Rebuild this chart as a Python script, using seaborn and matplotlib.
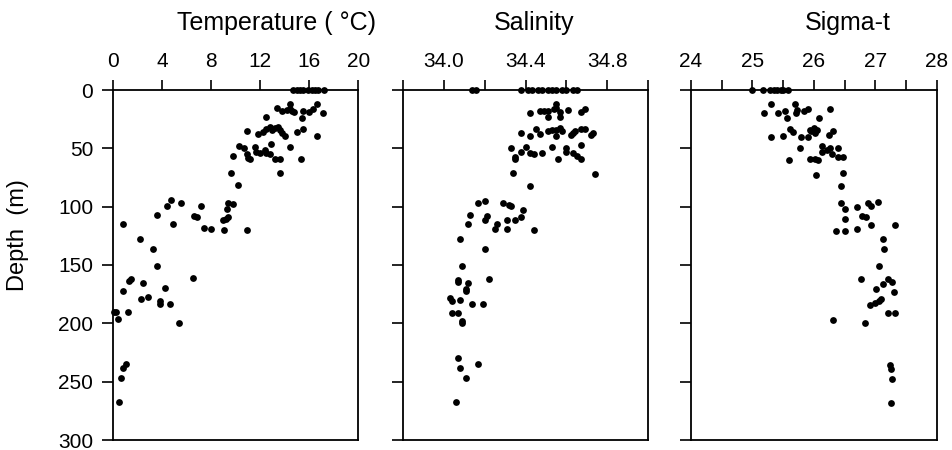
import matplotlib
matplotlib.use("Agg")
import matplotlib.pyplot as plt
import seaborn as sns
import pandas as pd

# ---------------- data ----------------
temp_values = [14.7, 15.0, 15.25, 15.5, 15.9, 16.2, 16.5, 16.7, 17.2,
               14.4, 13.4, 13.8, 14.2, 14.4, 14.6, 14.8, 15.5, 16.0, 16.3, 16.6, 17.1,
               12.5, 15.4, 10.9, 11.8, 12.2, 12.5, 12.8, 13.0, 13.2, 13.5, 13.6, 13.8,
               14.0, 15.0, 15.5, 16.6, 10.3, 10.7, 9.8, 10.9, 11.0, 11.2, 11.6, 11.7,
               12.0, 12.4, 12.5, 12.8, 12.9, 13.2, 13.6, 14.4, 15.3, 13.6, 9.6, 10.2,
               4.75, 4.45, 5.6, 3.6, 4.9, 0.87, 6.6, 6.9, 7.2, 7.4, 8.0, 9.1, 8.95,
               9.2, 9.4, 9.3, 9.4, 9.8, 10.9, 2.2, 3.3, 3.6,
               6.57, 1.36, 1.49, 2.44, 0.81, 4.26, 2.28, 2.9, 3.85, 3.85, 4.67,
               0.11, 0.25, 1.28, 0.41, 5.43, 1.09, 0.81, 0.68, 0.54]
temp_depth = [0, 0, 0, 0, 0, 0, 0, 0, 0,
              12.2, 15.6, 18.4, 17, 16.4, 18.4, 19.2, 17.8, 19.2, 16.4, 12.2, 19.8,
              23.5, 24, 34.8, 37.6, 36, 33.4, 32, 34, 32.5, 31.7, 34, 36.8,
              39, 36, 33.1, 39.6, 48.1, 49.8, 56.6, 55.2, 58, 58.9, 48.7, 53.2,
              53.8, 51, 53.8, 54.6, 46.7, 59.4, 58.9, 48.7, 59.4, 71.3, 70.8, 81.5,
              94.3, 99, 96.8, 107, 115, 115, 107.6, 109, 99.6, 118.3, 118.9, 120.3, 111,
              110.4, 109, 101.9, 96.8, 97.7, 120.3, 127.4, 136.1, 150.6,
              161.4, 163.7, 162, 165.7, 172, 170, 179.4, 177.7, 180.9, 183.4, 183.4,
              190.6, 190.6, 190.6, 196.6, 199.4, 234.9, 238.6, 247.1, 267.1]

sal_values = [34.14, 34.16, 34.38, 34.41, 34.43, 34.46, 34.48, 34.51, 34.53, 34.55,
              34.58, 34.60, 34.63, 34.65,
              34.55, 34.42, 34.47, 34.49, 34.51, 34.54, 34.55, 34.57, 34.51, 34.57,
              34.61, 34.67, 34.69, 34.38, 34.42, 34.45, 34.47, 34.51, 34.53, 34.55,
              34.57, 34.58, 34.55, 34.62, 34.63, 34.64, 34.67, 34.69, 34.72, 34.73,
              34.33, 34.35, 34.35, 34.38, 34.40, 34.42, 34.44, 34.48, 34.53, 34.56,
              34.60, 34.60, 34.63, 34.65, 34.67, 34.67, 34.74, 34.34, 34.42,
              34.17, 34.20, 34.29, 34.32, 34.33, 34.39, 34.13, 34.21, 34.20, 34.12,
              34.26, 34.25, 34.31, 34.31, 34.35, 34.38, 34.44, 34.08, 34.20, 34.09,
              34.22, 34.07, 34.07, 34.12, 34.11, 34.11, 34.03, 34.04, 34.08, 34.14,
              34.19, 34.04, 34.07, 34.09, 34.09, 34.07, 34.17, 34.08, 34.11, 34.06]
sal_depth = [0, 0, 0, 0, 0, 0, 0, 0, 0, 0,
             0, 0, 0, 0,
             12.2, 19.8, 18.4, 17.8, 18.4, 16.4, 15.6, 19.2, 23.5, 23.5,
             17, 19.2, 15.9, 36.8, 39, 33.1, 37.6, 35.4, 34, 34.5,
             32.5, 35.4, 39.6, 38.2, 36.8, 34.8, 33.4, 33.1, 38.2, 36.8,
             50.1, 57.2, 58.9, 53.2, 48.7, 53.8, 55.2, 53.8, 48.7, 59.4,
             50.1, 53.2, 53.8, 56.6, 59.4, 47.3, 71.6, 70.8, 82.1,
             97.1, 94.8, 97.1, 98.5, 99, 102.5, 107, 107.6, 111.8, 115.2,
             115.2, 118.9, 111.2, 118.9, 111, 109, 120.3, 127.4, 136.1, 150.6,
             162, 162.9, 164.3, 165.7, 170.6, 172.3, 178, 180.9, 180, 183.7,
             183.7, 190.9, 190.9, 197.7, 200, 230, 235.1, 238.6, 247.1, 267.7]

sig_values = [25.0, 25.17, 25.28, 25.35, 25.40, 25.46, 25.50, 25.58,
              25.30, 25.69, 25.19, 25.41, 25.53, 25.57, 25.71, 25.73, 25.84, 25.91,
              26.26, 26.09, 25.62, 25.66, 25.50, 25.30, 25.79, 25.90, 25.94, 25.96,
              26.00, 26.05, 26.02, 26.24, 26.32, 25.77, 25.60, 25.94, 26.02, 26.07,
              26.13, 26.14, 26.21, 26.26, 26.29, 26.40, 26.40, 26.47, 26.03, 26.47,
              26.44, 26.45, 26.51, 26.71, 26.89, 26.93, 27.05, 26.51, 26.78, 26.85,
              26.93, 27.32, 26.36, 26.50, 26.71, 27.12, 27.15, 27.07,
              26.77, 27.21, 27.28, 27.13, 27.01, 27.31, 27.10, 27.07, 27.00, 26.91,
              27.21, 27.33, 26.31, 26.84, 27.24, 27.25, 27.28, 27.25]
sig_depth = [0, 0, 0, 0, 0, 0, 0, 0,
             12.2, 12.2, 19.8, 19.8, 18.4, 24, 19.8, 17.5, 18.4, 16.1,
             16.1, 24, 33.4, 36.2, 39, 40.2, 40.5, 40.5, 34, 35.4,
             32.5, 34, 36.8, 38.2, 35.4, 49.5, 60, 58.9, 59.4, 60,
             48.1, 53.2, 51.8, 49.5, 55.2, 49.5, 57.2, 57.2, 72.5, 71.3,
             82.6, 97.1, 101.9, 100.5, 97.1, 99, 95.7, 110.4, 107.6, 109,
             116, 116, 120.9, 120.9, 119.4, 127.9, 136.7, 150.9,
             162.3, 162.3, 164.3, 166.6, 170.6, 172.9, 179.1, 180.6, 182.3, 184.3,
             191.4, 191.4, 197.1, 200, 235.7, 239.4, 247.7, 268]

panel_titles = ["Temperature ( \u00b0C)", "Salinity", "Sigma-t"]
temp_ticks = [0, 4, 8, 12, 16, 20]
sal_ticks = [33.8, 34.0, 34.2, 34.4, 34.6, 34.8, 35.0]
sal_labels = ["", "34.0", "", "34.4", "", "34.8", ""]
sig_ticks = [24, 24.5, 25, 25.5, 26, 26.5, 27, 27.5, 28]
sig_labels = ["24", "", "25", "", "26", "", "27", "", "28"]
depth_ticks = [0, 50, 100, 150, 200, 250, 300]

# ---------------- style ----------------
sns.set_style("ticks")
plt.rcParams['font.family'] = ['Liberation Sans', 'DejaVu Sans']
plt.rcParams['text.color'] = 'black'
plt.rcParams['axes.labelcolor'] = 'black'
plt.rcParams['xtick.color'] = 'black'
plt.rcParams['ytick.color'] = 'black'

fig = plt.figure(figsize=(9.52, 4.5), dpi=100)
lefts = [112.7 / 952, 402.7 / 952, 691 / 952]
w = 245.6 / 952
top_px, bot_px = 90, 440
bottom = 1 - bot_px / 450
h = (bot_px - top_px) / 450

panels = [
    (pd.DataFrame({"x": temp_values, "depth": temp_depth}), (0, 20), temp_ticks, [str(t) for t in temp_ticks]),
    (pd.DataFrame({"x": sal_values, "depth": sal_depth}), (33.8, 35.0), sal_ticks, sal_labels),
    (pd.DataFrame({"x": sig_values, "depth": sig_depth}), (24, 28), sig_ticks, sig_labels),
]
title_x = [0.665, 0.533, 0.64]
title_y = (bot_px - 30) / (bot_px - top_px)

for i, (df, xlim, xt, xl) in enumerate(panels):
    ax = fig.add_axes([lefts[i], bottom, w, h])
    sns.scatterplot(data=df, x="x", y="depth", ax=ax, color="black", s=24,
                    edgecolor="black", linewidth=0, clip_on=False, zorder=3)
    ax.set_xlim(*xlim)
    ax.set_ylim(300, 0)
    ax.xaxis.tick_top()
    ax.set_xticks(xt)
    ax.set_xticklabels(xl)
    ax.set_yticks(depth_ticks)
    ax.set_xlabel("")
    for sp in ax.spines.values():
        sp.set_visible(True)
        sp.set_linewidth(1.3)
        sp.set_color("black")
    ax.tick_params(axis="x", which="both", top=True, bottom=False, direction="out",
                   length=7, width=1.2, pad=7, labelsize=15, colors="black")
    ax.tick_params(axis="y", which="both", left=True, right=False, direction="out",
                   length=8, width=1.2, pad=6, labelsize=15, colors="black")
    if i == 0:
        ax.set_ylabel("Depth  (m)", fontsize=17)
        ax.yaxis.set_label_coords(-0.34, 0.586)
    else:
        ax.set_ylabel("")
        ax.set_yticklabels([])
    ax.text(title_x[i], title_y, panel_titles[i], transform=ax.transAxes,
            ha="center", va="baseline", fontsize=18, color="black")

fig.savefig("out.png", dpi=100)
